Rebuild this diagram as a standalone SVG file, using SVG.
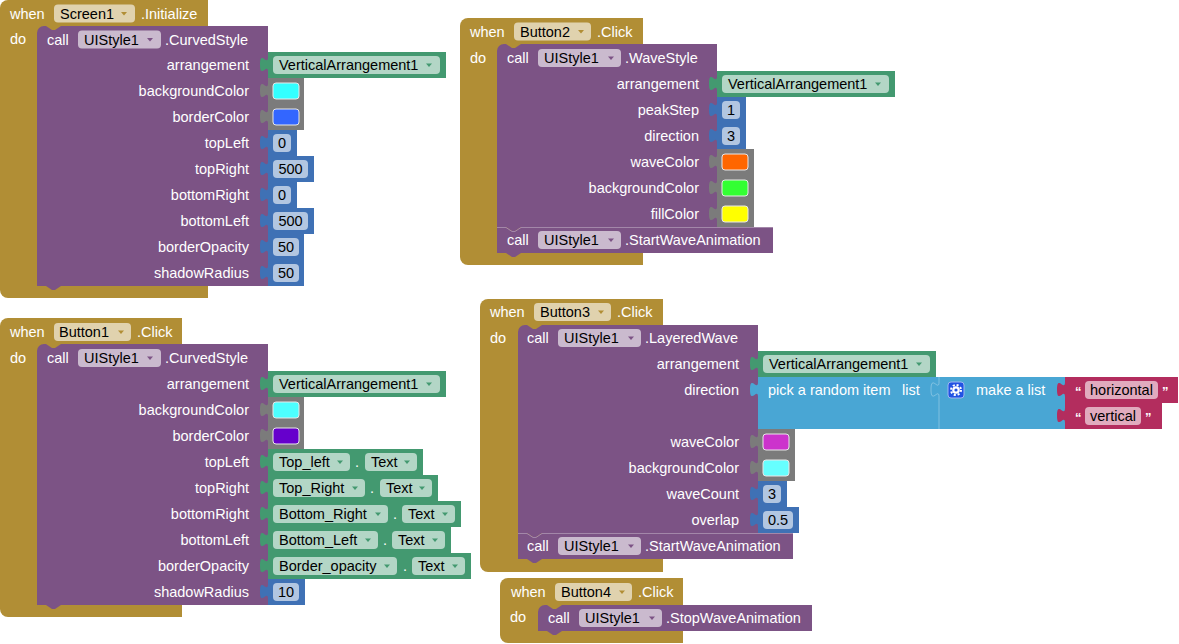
<svg xmlns="http://www.w3.org/2000/svg" width="1179" height="644" viewBox="0 0 1179 644">
<style>
text{font-family:"Liberation Sans",Arial,sans-serif;font-size:14.5px;fill:#fff}
.k{fill:#000}
.r{text-anchor:end}
.m{text-anchor:middle}
.ev{fill:#B18E35}
.pu{fill:#7C5385}
.gr{fill:#439970}
.nu{fill:#3F71B5}
.co{fill:#7B7B7B}
.li{fill:#49A6D4}
.tx{fill:#B32D5E}
.fd{fill:#fff;fill-opacity:.6}
.sw{stroke:#e8e8e8;stroke-width:1}
.ae{fill:#B18E35}
.ap{fill:#7C5385}
.ag{fill:#439970}
.hl{fill:none;stroke:#fff;stroke-opacity:.3;stroke-width:1}
.q{font-size:13px;font-weight:bold}
</style>
<defs>
<path id="ar" d="M-3,-1.5h6l-3,3.5z"/>
</defs>
<rect width="1179" height="644" fill="#fff"/>
<g id="connectors"/>

<g id="screen1-initialize">
<path class="ev" d="M0,8a8,8 0 0 1 8,-8H208V298H8a8,8 0 0 1 -8,-8Z"/>
<text x="10" y="18.5">when</text>
<rect class="fd" x="54" y="4.5" width="81" height="18" rx="4"/>
<text class="k" x="60" y="18.5">Screen1</text>
<use href="#ar" x="124" y="13.5" class="ae"/>
<text x="141" y="18.5">.Initialize</text>
<text x="10" y="44">do</text>
<path class="pu" d="M37,33a7,7 0 0 1 7,-7H46l6,4h3l6,-4H268V286H61l-6,4h-3l-6,-4H37Z"/>
<text x="47" y="44.5">call</text>
<rect class="fd" x="78" y="30.5" width="83" height="18" rx="4"/>
<text class="k" x="84" y="44.5">UIStyle1</text>
<use href="#ar" x="150" y="39.5" class="ap"/>
<text x="165" y="44.5">.CurvedStyle</text>
<text class="r" x="249" y="70">arrangement</text>
<text class="r" x="249" y="96">backgroundColor</text>
<text class="r" x="249" y="122">borderColor</text>
<text class="r" x="249" y="148">topLeft</text>
<text class="r" x="249" y="174">topRight</text>
<text class="r" x="249" y="200">bottomRight</text>
<text class="r" x="249" y="226">bottomLeft</text>
<text class="r" x="249" y="252">borderOpacity</text>
<text class="r" x="249" y="278">shadowRadius</text>
<path class="gr" d="M268,52H446V78H268V72c0,-10 -8,8 -8,-7.5s8,2.5 8,-7.5Z"/>
<rect class="fd" x="273" y="56" width="167" height="18" rx="4"/>
<text class="k" x="279" y="70">VerticalArrangement1</text>
<use href="#ar" x="429" y="65" class="ag"/>
<path class="co" d="M268,78H304V104H268V98c0,-10 -8,8 -8,-7.5s8,2.5 8,-7.5Z"/>
<rect class="sw" x="273" y="83" width="26" height="16" rx="3" fill="#33FFFF"/>
<path class="co" d="M268,104H304V130H268V124c0,-10 -8,8 -8,-7.5s8,2.5 8,-7.5Z"/>
<rect class="sw" x="273" y="109" width="26" height="16" rx="3" fill="#3366FF"/>
<path class="nu" d="M268,130H297V156H268V150c0,-10 -8,8 -8,-7.5s8,2.5 8,-7.5Z"/>
<rect class="fd" x="273" y="134" width="18" height="18" rx="4"/>
<text class="k m" x="282" y="148">0</text>
<path class="nu" d="M268,156H314V182H268V176c0,-10 -8,8 -8,-7.5s8,2.5 8,-7.5Z"/>
<rect class="fd" x="273" y="160" width="35" height="18" rx="4"/>
<text class="k m" x="290.5" y="174">500</text>
<path class="nu" d="M268,182H297V208H268V202c0,-10 -8,8 -8,-7.5s8,2.5 8,-7.5Z"/>
<rect class="fd" x="273" y="186" width="18" height="18" rx="4"/>
<text class="k m" x="282" y="200">0</text>
<path class="nu" d="M268,208H314V234H268V228c0,-10 -8,8 -8,-7.5s8,2.5 8,-7.5Z"/>
<rect class="fd" x="273" y="212" width="35" height="18" rx="4"/>
<text class="k m" x="290.5" y="226">500</text>
<path class="nu" d="M268,234H304V260H268V254c0,-10 -8,8 -8,-7.5s8,2.5 8,-7.5Z"/>
<rect class="fd" x="273" y="238" width="26" height="18" rx="4"/>
<text class="k m" x="286" y="252">50</text>
<path class="nu" d="M268,260H304V286H268V280c0,-10 -8,8 -8,-7.5s8,2.5 8,-7.5Z"/>
<rect class="fd" x="273" y="264" width="26" height="18" rx="4"/>
<text class="k m" x="286" y="278">50</text>
</g>

<g id="button1-click">
<path class="ev" d="M0,326a8,8 0 0 1 8,-8H182V617H8a8,8 0 0 1 -8,-8Z"/>
<text x="10" y="337">when</text>
<rect class="fd" x="54" y="323" width="77" height="18" rx="4"/>
<text class="k" x="59" y="337">Button1</text>
<use href="#ar" x="121" y="332" class="ae"/>
<text x="137" y="337">.Click</text>
<text x="10" y="363">do</text>
<path class="pu" d="M37,351a7,7 0 0 1 7,-7H46l6,4h3l6,-4H268V605H61l-6,4h-3l-6,-4H37Z"/>
<text x="47" y="363">call</text>
<rect class="fd" x="78" y="349" width="83" height="18" rx="4"/>
<text class="k" x="84" y="363">UIStyle1</text>
<use href="#ar" x="150" y="358" class="ap"/>
<text x="165" y="363">.CurvedStyle</text>
<text class="r" x="249" y="389">arrangement</text>
<text class="r" x="249" y="415">backgroundColor</text>
<text class="r" x="249" y="441">borderColor</text>
<text class="r" x="249" y="467">topLeft</text>
<text class="r" x="249" y="493">topRight</text>
<text class="r" x="249" y="519">bottomRight</text>
<text class="r" x="249" y="545">bottomLeft</text>
<text class="r" x="249" y="571">borderOpacity</text>
<text class="r" x="249" y="597">shadowRadius</text>
<path class="gr" d="M268,371H446V397H268V391c0,-10 -8,8 -8,-7.5s8,2.5 8,-7.5Z"/>
<rect class="fd" x="273" y="375" width="167" height="18" rx="4"/>
<text class="k" x="279" y="389">VerticalArrangement1</text>
<use href="#ar" x="429" y="384" class="ag"/>
<path class="co" d="M268,397H304V423H268V417c0,-10 -8,8 -8,-7.5s8,2.5 8,-7.5Z"/>
<rect class="sw" x="273" y="402" width="26" height="16" rx="3" fill="#4DFFFF"/>
<path class="co" d="M268,423H304V449H268V443c0,-10 -8,8 -8,-7.5s8,2.5 8,-7.5Z"/>
<rect class="sw" x="273" y="428" width="26" height="16" rx="3" fill="#6600CC"/>
<path class="gr" d="M268,449H423V475H268V469c0,-10 -8,8 -8,-7.5s8,2.5 8,-7.5Z"/>
<rect class="fd" x="273" y="453" width="77" height="18" rx="4"/>
<text class="k" x="279" y="467">Top_left</text>
<use href="#ar" x="340" y="462" class="ag"/>
<text x="355" y="467">.</text>
<rect class="fd" x="365" y="453" width="52" height="18" rx="4"/>
<text class="k" x="371" y="467">Text</text>
<use href="#ar" x="407" y="462" class="ag"/>
<path class="gr" d="M268,475H438V501H268V495c0,-10 -8,8 -8,-7.5s8,2.5 8,-7.5Z"/>
<rect class="fd" x="273" y="479" width="92" height="18" rx="4"/>
<text class="k" x="279" y="493">Top_Right</text>
<use href="#ar" x="355" y="488" class="ag"/>
<text x="370" y="493">.</text>
<rect class="fd" x="380" y="479" width="52" height="18" rx="4"/>
<text class="k" x="386" y="493">Text</text>
<use href="#ar" x="422" y="488" class="ag"/>
<path class="gr" d="M268,501H461V527H268V521c0,-10 -8,8 -8,-7.5s8,2.5 8,-7.5Z"/>
<rect class="fd" x="273" y="505" width="115" height="18" rx="4"/>
<text class="k" x="279" y="519">Bottom_Right</text>
<use href="#ar" x="378" y="514" class="ag"/>
<text x="393" y="519">.</text>
<rect class="fd" x="402" y="505" width="53" height="18" rx="4"/>
<text class="k" x="408" y="519">Text</text>
<use href="#ar" x="445" y="514" class="ag"/>
<path class="gr" d="M268,527H451V553H268V547c0,-10 -8,8 -8,-7.5s8,2.5 8,-7.5Z"/>
<rect class="fd" x="273" y="531" width="105" height="18" rx="4"/>
<text class="k" x="279" y="545">Bottom_Left</text>
<use href="#ar" x="368" y="540" class="ag"/>
<text x="383" y="545">.</text>
<rect class="fd" x="392" y="531" width="53" height="18" rx="4"/>
<text class="k" x="398" y="545">Text</text>
<use href="#ar" x="435" y="540" class="ag"/>
<path class="gr" d="M268,553H471V579H268V573c0,-10 -8,8 -8,-7.5s8,2.5 8,-7.5Z"/>
<rect class="fd" x="273" y="557" width="124" height="18" rx="4"/>
<text class="k" x="279" y="571">Border_opacity</text>
<use href="#ar" x="387" y="566" class="ag"/>
<text x="403" y="571">.</text>
<rect class="fd" x="412" y="557" width="53" height="18" rx="4"/>
<text class="k" x="418" y="571">Text</text>
<use href="#ar" x="455" y="566" class="ag"/>
<path class="nu" d="M268,579H305V605H268V599c0,-10 -8,8 -8,-7.5s8,2.5 8,-7.5Z"/>
<rect class="fd" x="273" y="583" width="26" height="18" rx="4"/>
<text class="k m" x="286" y="597">10</text>
</g>

<g id="button2-click">
<path class="ev" d="M460,26a8,8 0 0 1 8,-8H643V265H468a8,8 0 0 1 -8,-8Z"/>
<text x="470" y="36.5">when</text>
<rect class="fd" x="514" y="22.5" width="77" height="18" rx="4"/>
<text class="k" x="520" y="36.5">Button2</text>
<use href="#ar" x="581" y="31.5" class="ae"/>
<text x="597" y="36.5">.Click</text>
<text x="470" y="63">do</text>
<path class="pu" d="M497,227H506l6,4h3l6,-4H773V253H521l-6,4h-3l-6,-4H497Z"/>
<path class="pu" d="M497,51a7,7 0 0 1 7,-7H506l6,4h3l6,-4H717V227H521l-6,4h-3l-6,-4H497Z"/>
<path class="hl" d="M497,227.5H506l6,4h3l6,-4H773"/>
<text x="507" y="63">call</text>
<rect class="fd" x="538" y="49" width="83" height="18" rx="4"/>
<text class="k" x="544" y="63">UIStyle1</text>
<use href="#ar" x="611" y="58" class="ap"/>
<text x="625" y="63">.WaveStyle</text>
<text class="r" x="699" y="89">arrangement</text>
<text class="r" x="699" y="115">peakStep</text>
<text class="r" x="699" y="141">direction</text>
<text class="r" x="699" y="167">waveColor</text>
<text class="r" x="699" y="193">backgroundColor</text>
<text class="r" x="699" y="219">fillColor</text>
<path class="gr" d="M717,71H895V97H717V91c0,-10 -8,8 -8,-7.5s8,2.5 8,-7.5Z"/>
<rect class="fd" x="722" y="75" width="167" height="18" rx="4"/>
<text class="k" x="728" y="89">VerticalArrangement1</text>
<use href="#ar" x="878" y="84" class="ag"/>
<path class="nu" d="M717,97H746V123H717V117c0,-10 -8,8 -8,-7.5s8,2.5 8,-7.5Z"/>
<rect class="fd" x="722" y="101" width="18" height="18" rx="4"/>
<text class="k m" x="731" y="115">1</text>
<path class="nu" d="M717,123H746V149H717V143c0,-10 -8,8 -8,-7.5s8,2.5 8,-7.5Z"/>
<rect class="fd" x="722" y="127" width="18" height="18" rx="4"/>
<text class="k m" x="731" y="141">3</text>
<path class="co" d="M717,149H754V175H717V169c0,-10 -8,8 -8,-7.5s8,2.5 8,-7.5Z"/>
<rect class="sw" x="722" y="154" width="26" height="16" rx="3" fill="#FF6600"/>
<path class="co" d="M717,175H754V201H717V195c0,-10 -8,8 -8,-7.5s8,2.5 8,-7.5Z"/>
<rect class="sw" x="722" y="180" width="26" height="16" rx="3" fill="#33FF33"/>
<path class="co" d="M717,201H754V227H717V221c0,-10 -8,8 -8,-7.5s8,2.5 8,-7.5Z"/>
<rect class="sw" x="722" y="206" width="26" height="16" rx="3" fill="#FFFF00"/>
<text x="507" y="245">call</text>
<rect class="fd" x="538" y="231" width="83" height="18" rx="4"/>
<text class="k" x="544" y="245">UIStyle1</text>
<use href="#ar" x="611" y="240" class="ap"/>
<text x="625" y="245">.StartWaveAnimation</text>
</g>

<g id="button3-click">
<path class="ev" d="M480,307a8,8 0 0 1 8,-8H663V572H488a8,8 0 0 1 -8,-8Z"/>
<text x="490" y="317">when</text>
<rect class="fd" x="534" y="303" width="77" height="18" rx="4"/>
<text class="k" x="540" y="317">Button3</text>
<use href="#ar" x="601" y="312" class="ae"/>
<text x="617" y="317">.Click</text>
<text x="490" y="343">do</text>
<path class="pu" d="M518,533H527l6,4h3l6,-4H793V559H542l-6,4h-3l-6,-4H518Z"/>
<path class="pu" d="M518,332a7,7 0 0 1 7,-7H527l6,4h3l6,-4H758V533H542l-6,4h-3l-6,-4H518Z"/>
<path class="hl" d="M518,533.5H527l6,4h3l6,-4H793"/>
<text x="527" y="343">call</text>
<rect class="fd" x="558" y="329" width="83" height="18" rx="4"/>
<text class="k" x="564" y="343">UIStyle1</text>
<use href="#ar" x="631" y="338" class="ap"/>
<text x="645" y="343">.LayeredWave</text>
<text class="r" x="739" y="369">arrangement</text>
<text class="r" x="739" y="395">direction</text>
<text class="r" x="739" y="447">waveColor</text>
<text class="r" x="739" y="473">backgroundColor</text>
<text class="r" x="739" y="499">waveCount</text>
<text class="r" x="739" y="525">overlap</text>
<path class="gr" d="M758,351H936V377H758V371c0,-10 -8,8 -8,-7.5s8,2.5 8,-7.5Z"/>
<rect class="fd" x="763" y="355" width="167" height="18" rx="4"/>
<text class="k" x="769" y="369">VerticalArrangement1</text>
<use href="#ar" x="919" y="364" class="ag"/>
<path class="li" d="M758,377H939V429H758V397c0,-10 -8,8 -8,-7.5s8,2.5 8,-7.5Z"/>
<text x="768" y="395">pick a random item</text>
<text x="902" y="395">list</text>
<path class="li" d="M939,377H1065V429H939V397c0,-10 -8,8 -8,-7.5s8,2.5 8,-7.5Z"/>
<path class="hl" d="M939,377V382c0,10 -8,-8 -8,7.5s8,-2.5 8,7.5V429"/>
<rect x="948" y="382" width="16" height="16" rx="3" fill="#2152E3" stroke="#9DB6F2" stroke-width="1"/>
<circle cx="956" cy="390" r="3.8" fill="#fff"/>
<circle cx="956" cy="390" r="5" fill="none" stroke="#fff" stroke-width="2" stroke-dasharray="2.05 1.88"/>
<circle cx="956" cy="390" r="1.6" fill="#2152E3"/>
<text x="976" y="395">make a list</text>
<path class="tx" d="M1065,377H1178V403H1065V397c0,-10 -8,8 -8,-7.5s8,2.5 8,-7.5Z"/>
<text class="q" x="1075" y="396">“</text>
<rect class="fd" x="1085" y="381" width="73" height="18" rx="4"/>
<text class="k" x="1090" y="395">horizontal</text>
<text class="q" x="1162" y="396">”</text>
<path class="tx" d="M1065,403H1162V429H1065V423c0,-10 -8,8 -8,-7.5s8,2.5 8,-7.5Z"/>
<text class="q" x="1075" y="422">“</text>
<rect class="fd" x="1085" y="407" width="56" height="18" rx="4"/>
<text class="k" x="1090" y="421">vertical</text>
<text class="q" x="1145" y="422">”</text>
<path class="co" d="M758,429H795V455H758V449c0,-10 -8,8 -8,-7.5s8,2.5 8,-7.5Z"/>
<rect class="sw" x="763" y="434" width="26" height="16" rx="3" fill="#CC33CC"/>
<path class="co" d="M758,455H795V481H758V475c0,-10 -8,8 -8,-7.5s8,2.5 8,-7.5Z"/>
<rect class="sw" x="763" y="460" width="26" height="16" rx="3" fill="#66FFFF"/>
<path class="nu" d="M758,481H787V507H758V501c0,-10 -8,8 -8,-7.5s8,2.5 8,-7.5Z"/>
<rect class="fd" x="763" y="485" width="18" height="18" rx="4"/>
<text class="k m" x="772" y="499">3</text>
<path class="nu" d="M758,507H799V533H758V527c0,-10 -8,8 -8,-7.5s8,2.5 8,-7.5Z"/>
<rect class="fd" x="763" y="511" width="30" height="18" rx="4"/>
<text class="k m" x="778" y="525">0.5</text>
<text x="527" y="551">call</text>
<rect class="fd" x="558" y="537" width="83" height="18" rx="4"/>
<text class="k" x="564" y="551">UIStyle1</text>
<use href="#ar" x="631" y="546" class="ap"/>
<text x="645" y="551">.StartWaveAnimation</text>
</g>

<g id="button4-click">
<path class="ev" d="M500,586a8,8 0 0 1 8,-8H683V643H508a8,8 0 0 1 -8,-8Z"/>
<text x="511" y="597">when</text>
<rect class="fd" x="555" y="583" width="77" height="18" rx="4"/>
<text class="k" x="561" y="597">Button4</text>
<use href="#ar" x="622" y="592" class="ae"/>
<text x="638" y="597">.Click</text>
<text x="510" y="622">do</text>
<path class="pu" d="M538,612a7,7 0 0 1 7,-7H547l6,4h3l6,-4H812V631H562l-6,4h-3l-6,-4H538Z"/>
<text x="548" y="623">call</text>
<rect class="fd" x="579" y="609" width="83" height="18" rx="4"/>
<text class="k" x="585" y="623">UIStyle1</text>
<use href="#ar" x="652" y="618" class="ap"/>
<text x="666" y="623">.StopWaveAnimation</text>
</g>
</svg>
